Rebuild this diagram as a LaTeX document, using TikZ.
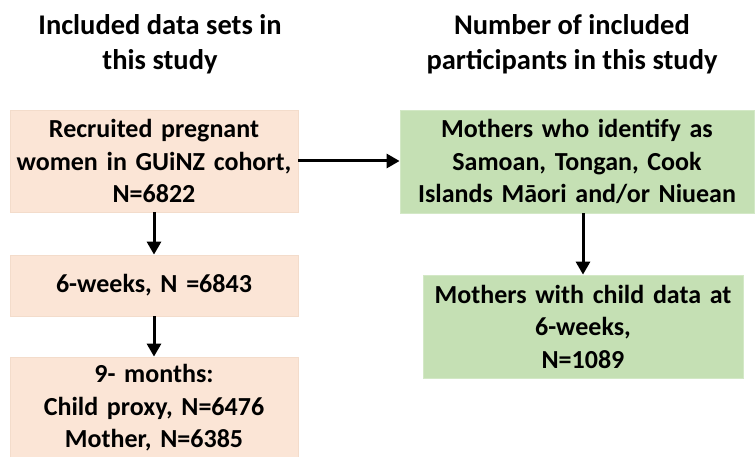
\documentclass[tikz,border=0pt]{standalone}
\usepackage{fontspec}
\setmainfont{Carlito}
\usetikzlibrary{arrows.meta,calc}
\newcommand{\LINEPT}{3pt}
\newcommand{\BOXTXT}{\fontsize{26}{32.5}\selectfont\bfseries}
\newcommand{\HEADTXT}{\fontsize{28.5}{35}\selectfont\bfseries}
\definecolor{mypeach}{HTML}{FBE5D6}
\definecolor{mypeachline}{HTML}{F3DCCB}
\definecolor{mygreen}{HTML}{C5E0B4}
\definecolor{mygreenline}{HTML}{D3E8C6}

\begin{document}
\begin{tikzpicture}[x=1pt,y=-1pt,
	headtext/.style={align=center,font=\HEADTXT,inner sep=0pt},
	peachbox/.style={fill=mypeach,draw=mypeachline,line width=0.8pt,align=center,font=\BOXTXT,inner sep=0pt},
	greenbox/.style={fill=mygreen,draw=mygreenline,line width=0.8pt,align=center,font=\BOXTXT,inner sep=0pt},
	flowarrow/.style={-{Triangle[length=13pt,width=14pt]},line width=\LINEPT,color=black}]

		\useasboundingbox (0,0) rectangle (755,457);

		%% headings
		\node[headtext] (hdL) at (160,44) {Included data sets in\\this study};
		\node[headtext] (hdR) at (572,44) {Number of included\\participants in this study};

		%% left column
		\node[peachbox,text width=288pt,minimum height=102pt] (rec) at (154,161) {Recruited pregnant\\women in GUiNZ cohort,\\N=6822};
		\node[peachbox,text width=288pt,minimum height=61pt] (wk6) at (154,285.5) {6-weeks, N =6843};
		\node[peachbox,text width=288pt,minimum height=102pt] (mo9) at (154,408) {9- months:\\Child proxy, N=6476\\Mother, N=6385};

		%% right column
		\node[greenbox,text width=354pt,minimum height=103pt] (pac) at (577,161.5) {Mothers who identify as\\Samoan, Tongan, Cook\\Islands M\={a}ori and/or Niuean};
		\node[greenbox,text width=320pt,minimum height=103pt] (chd) at (583,326.5) {Mothers with child data at\\6-weeks,\\N=1089};

		%% arrows
		\draw[flowarrow] (rec.east) -- (rec.east -| pac.west);
		\draw[flowarrow] (rec.south) -- (wk6.north);
		\draw[flowarrow] (wk6.south) -- (mo9.north);
		\draw[flowarrow] (chd.north |- pac.south) -- (chd.north);

	\end{tikzpicture}
\end{document}
